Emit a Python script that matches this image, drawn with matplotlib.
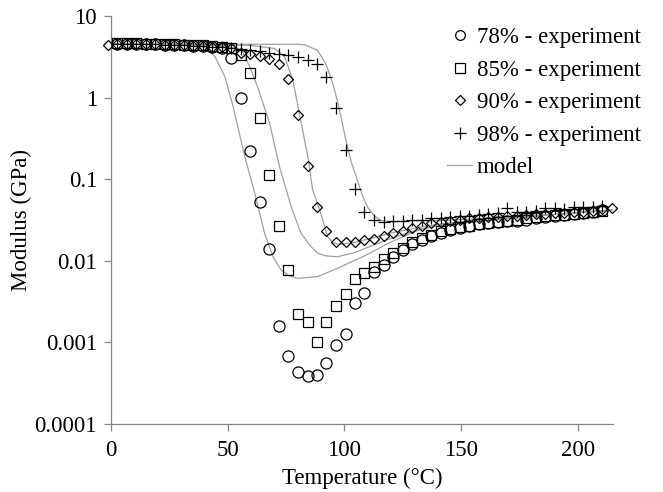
import matplotlib
matplotlib.use('Agg')
import matplotlib.pyplot as plt
from matplotlib.ticker import FixedLocator, FixedFormatter, NullLocator
from matplotlib.lines import Line2D

plt.rcParams['font.family'] = ['Liberation Serif', 'DejaVu Serif']

# measurement temperatures (deg C)
temp = [2.7, 6.8, 10.8, 14.9, 19.0, 23.1, 27.1, 31.2, 35.3, 39.4, 43.4, 47.5,
        51.6, 55.7, 59.7, 63.8, 67.9, 72.0, 76.0, 80.1, 84.2, 88.3, 92.3, 96.4,
        100.5, 104.6, 108.6, 112.7, 116.8, 120.9, 124.9, 129.0, 133.1, 137.2,
        141.2, 145.3, 149.4, 153.5, 157.5, 161.6, 165.7, 169.8, 173.8, 177.9,
        182.0, 186.1, 190.1, 194.2, 198.3, 202.4, 206.4, 210.5]
temp_90 = [-1.3] + temp + [214.6]

# modulus (GPa)
e_78 = [4.6, 4.6, 4.55, 4.5, 4.5, 4.45, 4.4, 4.35, 4.3, 4.25, 4.2, 4.1,
        3.05, 1.0, 0.22, 0.052, 0.014, 0.0016, 0.00069, 0.00043, 0.00039, 0.00040,
        0.00056, 0.00094, 0.00127, 0.0030, 0.0040, 0.0072, 0.0090, 0.011, 0.0135,
        0.016, 0.018, 0.020, 0.022, 0.024, 0.0255, 0.027, 0.028, 0.029, 0.030,
        0.031, 0.031, 0.032, 0.033, 0.034, 0.035, 0.036, 0.037, 0.038, 0.040, 0.042]
e_85 = [4.7, 4.7, 4.65, 4.6, 4.6, 4.55, 4.5, 4.45, 4.4, 4.35, 4.3, 4.2,
        4.0, 3.3, 2.0, 0.56, 0.113, 0.027, 0.0077, 0.0022, 0.0018, 0.00102,
        0.0018, 0.0028, 0.0039, 0.0059, 0.0070, 0.0085, 0.0105, 0.0125, 0.0145,
        0.017, 0.019, 0.021, 0.023, 0.0245, 0.026, 0.027, 0.028, 0.029, 0.030,
        0.031, 0.032, 0.033, 0.034, 0.035, 0.036, 0.036, 0.037, 0.038, 0.040, 0.041]
e_90 = [4.4,
        4.6, 4.6, 4.55, 4.5, 4.5, 4.45, 4.4, 4.35, 4.3, 4.25, 4.2, 4.2,
        4.1, 3.5, 3.4, 3.2, 2.95, 2.56, 1.67, 0.61, 0.145, 0.045, 0.0235, 0.017,
        0.017, 0.017, 0.0178, 0.0186, 0.020, 0.0217, 0.023, 0.0255, 0.0265, 0.0288,
        0.030, 0.031, 0.032, 0.033, 0.033, 0.034, 0.034, 0.035, 0.035, 0.036,
        0.037, 0.037, 0.038, 0.039, 0.040, 0.040, 0.041, 0.043,
        0.044]
e_98 = [4.6, 4.6, 4.55, 4.5, 4.5, 4.45, 4.4, 4.35, 4.3, 4.25, 4.2, 4.15,
        4.1, 3.9, 3.8, 3.7, 3.55, 3.45, 3.35, 3.1, 2.88, 2.56, 1.77, 0.75,
        0.23, 0.075, 0.040, 0.0316, 0.030, 0.031, 0.031, 0.032, 0.032, 0.033,
        0.033, 0.034, 0.035, 0.035, 0.036, 0.037, 0.038, 0.044, 0.040, 0.040,
        0.041, 0.044, 0.044, 0.043, 0.045, 0.046, 0.046, 0.047]

# model curves
mt_78 = [0, 10, 20, 30, 40, 44.5, 48.8, 52.3, 57.3, 61.6, 65.8, 69.4, 72.9, 76, 80,
         88.5, 97, 104, 111, 118, 125, 132, 140, 150, 160, 170, 180, 190, 200, 210, 215]
me_78 = [4.5, 4.5, 4.5, 4.45, 4.2, 3.2, 1.8, 0.78, 0.19, 0.067, 0.0217, 0.0112, 0.0077,
         0.0066, 0.0061, 0.0064, 0.0081, 0.0100, 0.0124, 0.016, 0.0197, 0.024, 0.027,
         0.029, 0.031, 0.033, 0.035, 0.037, 0.039, 0.041, 0.042]
mt_85 = [0, 10, 20, 30, 40, 50, 55.9, 59.4, 63, 68, 72.2, 77.2, 81.4, 85.7, 88.5, 92,
         97, 104, 111, 118, 125, 132, 140, 150, 160, 170, 180, 190, 200, 210, 215]
me_85 = [4.5, 4.5, 4.5, 4.45, 4.4, 4.2, 3.9, 2.4, 1.3, 0.48, 0.142, 0.046, 0.0217,
         0.0149, 0.0124, 0.0115, 0.0112, 0.0125, 0.015, 0.018, 0.021, 0.024, 0.027,
         0.029, 0.031, 0.033, 0.035, 0.037, 0.039, 0.041, 0.042]
mt_90 = [0, 20, 40, 60, 70, 74.3, 77.9, 80.7, 84.3, 86.4, 89.9, 92.8, 95, 97, 100,
         105, 110, 115, 120, 130, 140, 150, 160, 170, 180, 190, 200, 210, 215]
me_90 = [4.5, 4.5, 4.45, 4.35, 4.0, 3.2, 1.64, 0.64, 0.19, 0.074, 0.038, 0.0197,
         0.0168, 0.0160, 0.0162, 0.0170, 0.0185, 0.020, 0.022, 0.025, 0.028, 0.030,
         0.031, 0.033, 0.035, 0.037, 0.039, 0.041, 0.042]
mt_98 = [0, 20, 40, 60, 80, 82.8, 88.5, 92, 95, 97, 99, 101, 103, 105.5, 108, 110,
         113, 116, 120, 130, 140, 150, 160, 170, 180, 190, 200, 210, 215]
me_98 = [4.5, 4.5, 4.5, 4.5, 4.5, 4.45, 3.8, 2.6, 1.5, 0.9, 0.5, 0.27, 0.16, 0.098,
         0.06, 0.045, 0.035, 0.031, 0.030, 0.031, 0.031, 0.032, 0.033, 0.034, 0.036,
         0.037, 0.039, 0.041, 0.042]

y_ticks = [0.0001, 0.001, 0.01, 0.1, 1, 10]
y_labels = ['0.0001', '0.001', '0.01', '0.1', '1', '10']
x_ticks = [0, 50, 100, 150, 200]

fig = plt.figure(figsize=(6.63, 4.92), dpi=100)
ax = fig.add_axes([0.1674, 0.1382, 0.757, 0.8293])

gray = '#a0a0a0'
for mt, me in [(mt_78, me_78), (mt_85, me_85), (mt_90, me_90), (mt_98, me_98)]:
    ax.plot(mt, me, color=gray, lw=0.9, zorder=1)

mk = dict(linestyle='none', markerfacecolor='none', markeredgecolor='black',
          markeredgewidth=0.9)
ax.plot(temp, e_78, marker='o', markersize=8, clip_on=False, zorder=3, **mk)
ax.plot(temp, e_85, marker='s', markersize=7.5, clip_on=False, zorder=3, **mk)
ax.plot(temp_90, e_90, marker='D', markersize=5.5, clip_on=False, zorder=3, **mk)
ax.plot(temp, e_98, marker='+', markersize=8.5, clip_on=False, zorder=3, **mk)

ax.set_yscale('log')
ax.set_ylim(0.0001, 10)
ax.set_xlim(0, 215)
ax.yaxis.set_major_locator(FixedLocator(y_ticks))
ax.yaxis.set_major_formatter(FixedFormatter(y_labels))
ax.yaxis.set_minor_locator(NullLocator())
ax.set_xticks(x_ticks)

for s in ['top', 'right']:
    ax.spines[s].set_visible(False)
for s in ['left', 'bottom']:
    ax.spines[s].set_color('#868686')
    ax.spines[s].set_linewidth(0.9)
ax.tick_params(direction='out', length=5, width=0.9, color='#868686',
               labelsize=16.5)
ax.tick_params(axis='x', pad=6.5)
ax.tick_params(axis='y', pad=5)

ax.set_xlabel('Temperature (°C)', fontsize=16.5, labelpad=5)
ax.set_ylabel('Modulus (GPa)', fontsize=16.5, labelpad=1.5)

handles = [
    Line2D([], [], marker='o', markersize=7, **mk),
    Line2D([], [], marker='s', markersize=6.5, **mk),
    Line2D([], [], marker='D', markersize=5, **mk),
    Line2D([], [], marker='+', markersize=8, **mk),
    Line2D([], [], color=gray, lw=0.9),
]
labels = ['78% - experiment', '85% - experiment', '90% - experiment',
          '98% - experiment', 'model']
fig.legend(handles, labels, loc='upper right', bbox_to_anchor=(0.998, 0.987),
           frameon=False, fontsize=16.5, handlelength=1.13, handletextpad=0.2,
           labelspacing=0.5)

fig.savefig('out.png', dpi=100)
